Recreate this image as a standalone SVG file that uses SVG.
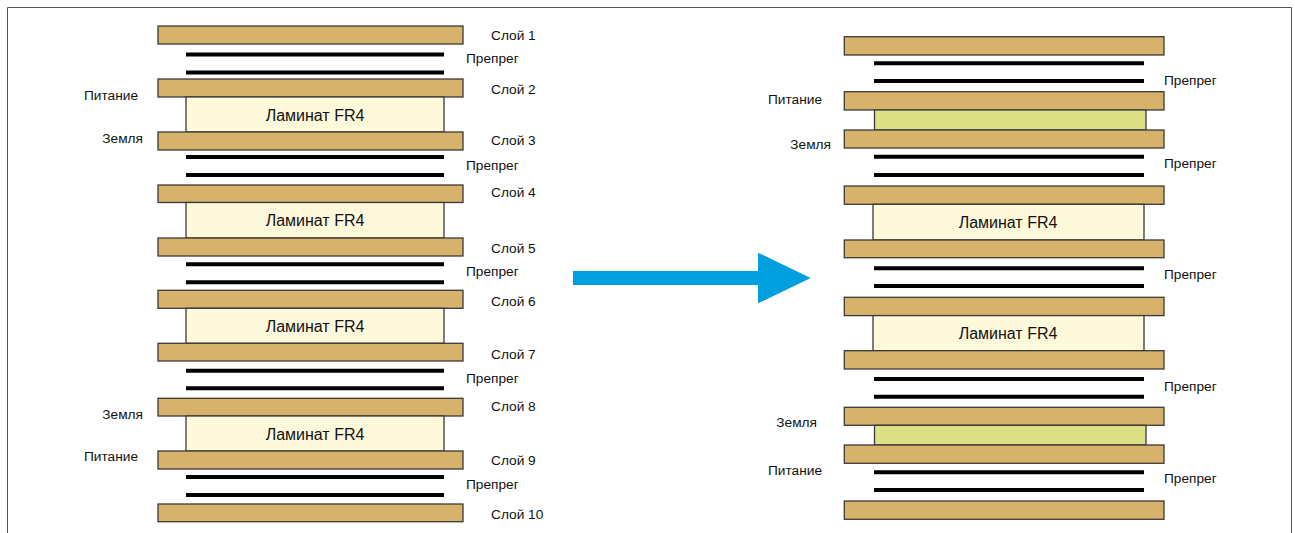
<svg xmlns="http://www.w3.org/2000/svg" width="1295" height="533" viewBox="0 0 1295 533">
  <style>
    .plate { fill: #D7B26B; stroke: #3A3A3A; stroke-width: 1.3; }
    .lam { fill: #FFF9DB; stroke: #3A3A3A; stroke-width: 1.3; }
    .core { fill: #DCE186; stroke: #3A3A3A; stroke-width: 1.3; }
    .pp { stroke: #000; stroke-width: 4; }
    text { font-family: "Liberation Sans", Arial, sans-serif; font-size: 13.7px; fill: #111; }
    .lamtxt { font-size: 16px; text-anchor: middle; }
    .end { text-anchor: end; }
  </style>

  <rect x="0" y="0" width="1295" height="533" fill="#fff"/>
  <path d="M7.5,533 V7.5 H1291.5 V533" fill="none" stroke="#555" stroke-width="1"/>

  <!-- Original 10-layer stack -->
  <g id="stack-left">
    <g id="l-layer1"><rect class="plate" x="158" y="26" width="305" height="18"/><text x="491" y="40">Слой 1</text></g>
    <g id="l-prepreg1"><line class="pp" x1="186" y1="54.5" x2="444" y2="54.5"/><line class="pp" x1="186" y1="72.5" x2="444" y2="72.5"/><text x="466" y="63">Препрег</text></g>
    <g id="l-layer2"><rect class="plate" x="158" y="79" width="305" height="18"/><text x="491" y="94">Слой 2</text><text class="end" x="138" y="100">Питание</text></g>
    <g id="l-core1"><rect class="lam" x="186" y="97" width="258" height="35"/><text class="lamtxt" x="315" y="120.5">Ламинат FR4</text></g>
    <g id="l-layer3"><rect class="plate" x="158" y="132" width="305" height="18"/><text x="491" y="145">Слой 3</text><text class="end" x="143" y="143">Земля</text></g>
    <g id="l-prepreg2"><line class="pp" x1="186" y1="157" x2="444" y2="157"/><line class="pp" x1="186" y1="175" x2="444" y2="175"/><text x="466" y="170">Препрег</text></g>
    <g id="l-layer4"><rect class="plate" x="158" y="185" width="305" height="17.5"/><text x="491" y="197">Слой 4</text></g>
    <g id="l-core2"><rect class="lam" x="186" y="202.5" width="258" height="35.5"/><text class="lamtxt" x="315" y="225.5">Ламинат FR4</text></g>
    <g id="l-layer5"><rect class="plate" x="158" y="238" width="305" height="18"/><text x="491" y="253">Слой 5</text></g>
    <g id="l-prepreg3"><line class="pp" x1="186" y1="264.3" x2="444" y2="264.3"/><line class="pp" x1="186" y1="282.3" x2="444" y2="282.3"/><text x="466" y="276">Препрег</text></g>
    <g id="l-layer6"><rect class="plate" x="158" y="290.3" width="305" height="18"/><text x="491" y="306">Слой 6</text></g>
    <g id="l-core3"><rect class="lam" x="186" y="308.3" width="258" height="35"/><text class="lamtxt" x="315" y="331.5">Ламинат FR4</text></g>
    <g id="l-layer7"><rect class="plate" x="158" y="343.3" width="305" height="17.7"/><text x="491" y="359">Слой 7</text></g>
    <g id="l-prepreg4"><line class="pp" x1="186" y1="370.7" x2="444" y2="370.7"/><line class="pp" x1="186" y1="388.3" x2="444" y2="388.3"/><text x="466" y="383">Препрег</text></g>
    <g id="l-layer8"><rect class="plate" x="158" y="398.3" width="305" height="17.7"/><text x="491" y="411">Слой 8</text><text class="end" x="143" y="419">Земля</text></g>
    <g id="l-core4"><rect class="lam" x="186" y="416" width="258" height="35"/><text class="lamtxt" x="315" y="439.5">Ламинат FR4</text></g>
    <g id="l-layer9"><rect class="plate" x="158" y="451" width="305" height="18"/><text x="491" y="465">Слой 9</text><text class="end" x="138" y="461">Питание</text></g>
    <g id="l-prepreg5"><line class="pp" x1="186" y1="477" x2="444" y2="477"/><line class="pp" x1="186" y1="495" x2="444" y2="495"/><text x="466" y="489">Препрег</text></g>
    <g id="l-layer10"><rect class="plate" x="158" y="504" width="305" height="17.7"/><text x="491" y="519">Слой 10</text></g>
  </g>

  <!-- Transition arrow -->
  <g id="connectors">
    <path d="M573,271 H758 V252.7 L810.7,278 L758,303.3 V285 H573 Z" fill="#009FE0"/>
  </g>

  <!-- Reworked stack with thin power/ground cores -->
  <g id="stack-right">
    <g id="r-layer1"><rect class="plate" x="844.3" y="36.7" width="319.7" height="18.3"/></g>
    <g id="r-prepreg1"><line class="pp" x1="874" y1="63.3" x2="1144" y2="63.3"/><line class="pp" x1="874" y1="81" x2="1144" y2="81"/><text x="1164" y="85">Препрег</text></g>
    <g id="r-layer2"><rect class="plate" x="844.3" y="91.7" width="319.7" height="18.3"/><text class="end" x="822" y="104">Питание</text></g>
    <g id="r-core1"><rect class="core" x="874.5" y="110" width="271.5" height="20"/></g>
    <g id="r-layer3"><rect class="plate" x="844.3" y="130" width="319.7" height="18"/><text class="end" x="831" y="149">Земля</text></g>
    <g id="r-prepreg2"><line class="pp" x1="874" y1="156.7" x2="1144" y2="156.7"/><line class="pp" x1="874" y1="175" x2="1144" y2="175"/><text x="1164" y="168">Препрег</text></g>
    <g id="r-layer4"><rect class="plate" x="844.3" y="186" width="319.7" height="18.3"/></g>
    <g id="r-core2"><rect class="lam" x="873" y="204.3" width="271" height="35.7"/><text class="lamtxt" x="1008" y="227.5">Ламинат FR4</text></g>
    <g id="r-layer5"><rect class="plate" x="844.3" y="240" width="319.7" height="17.7"/></g>
    <g id="r-prepreg3"><line class="pp" x1="874" y1="268.3" x2="1144" y2="268.3"/><line class="pp" x1="874" y1="286" x2="1144" y2="286"/><text x="1164" y="279">Препрег</text></g>
    <g id="r-layer6"><rect class="plate" x="844.3" y="297.3" width="319.7" height="18.3"/></g>
    <g id="r-core3"><rect class="lam" x="873" y="315.6" width="271" height="35.1"/><text class="lamtxt" x="1008" y="338.5">Ламинат FR4</text></g>
    <g id="r-layer7"><rect class="plate" x="844.3" y="350.7" width="319.7" height="18.3"/></g>
    <g id="r-prepreg4"><line class="pp" x1="874" y1="379" x2="1144" y2="379"/><line class="pp" x1="874" y1="396.7" x2="1144" y2="396.7"/><text x="1164" y="391">Препрег</text></g>
    <g id="r-layer8"><rect class="plate" x="844.3" y="407.3" width="319.7" height="18"/><text class="end" x="817" y="427">Земля</text></g>
    <g id="r-core4"><rect class="core" x="874.5" y="425.3" width="271.5" height="19.7"/></g>
    <g id="r-layer9"><rect class="plate" x="844.3" y="445" width="319.7" height="18.3"/><text class="end" x="822" y="475">Питание</text></g>
    <g id="r-prepreg5"><line class="pp" x1="874" y1="472.3" x2="1144" y2="472.3"/><line class="pp" x1="874" y1="490" x2="1144" y2="490"/><text x="1164" y="483">Препрег</text></g>
    <g id="r-layer10"><rect class="plate" x="844.3" y="501" width="319.7" height="18.3"/></g>
  </g>
</svg>
